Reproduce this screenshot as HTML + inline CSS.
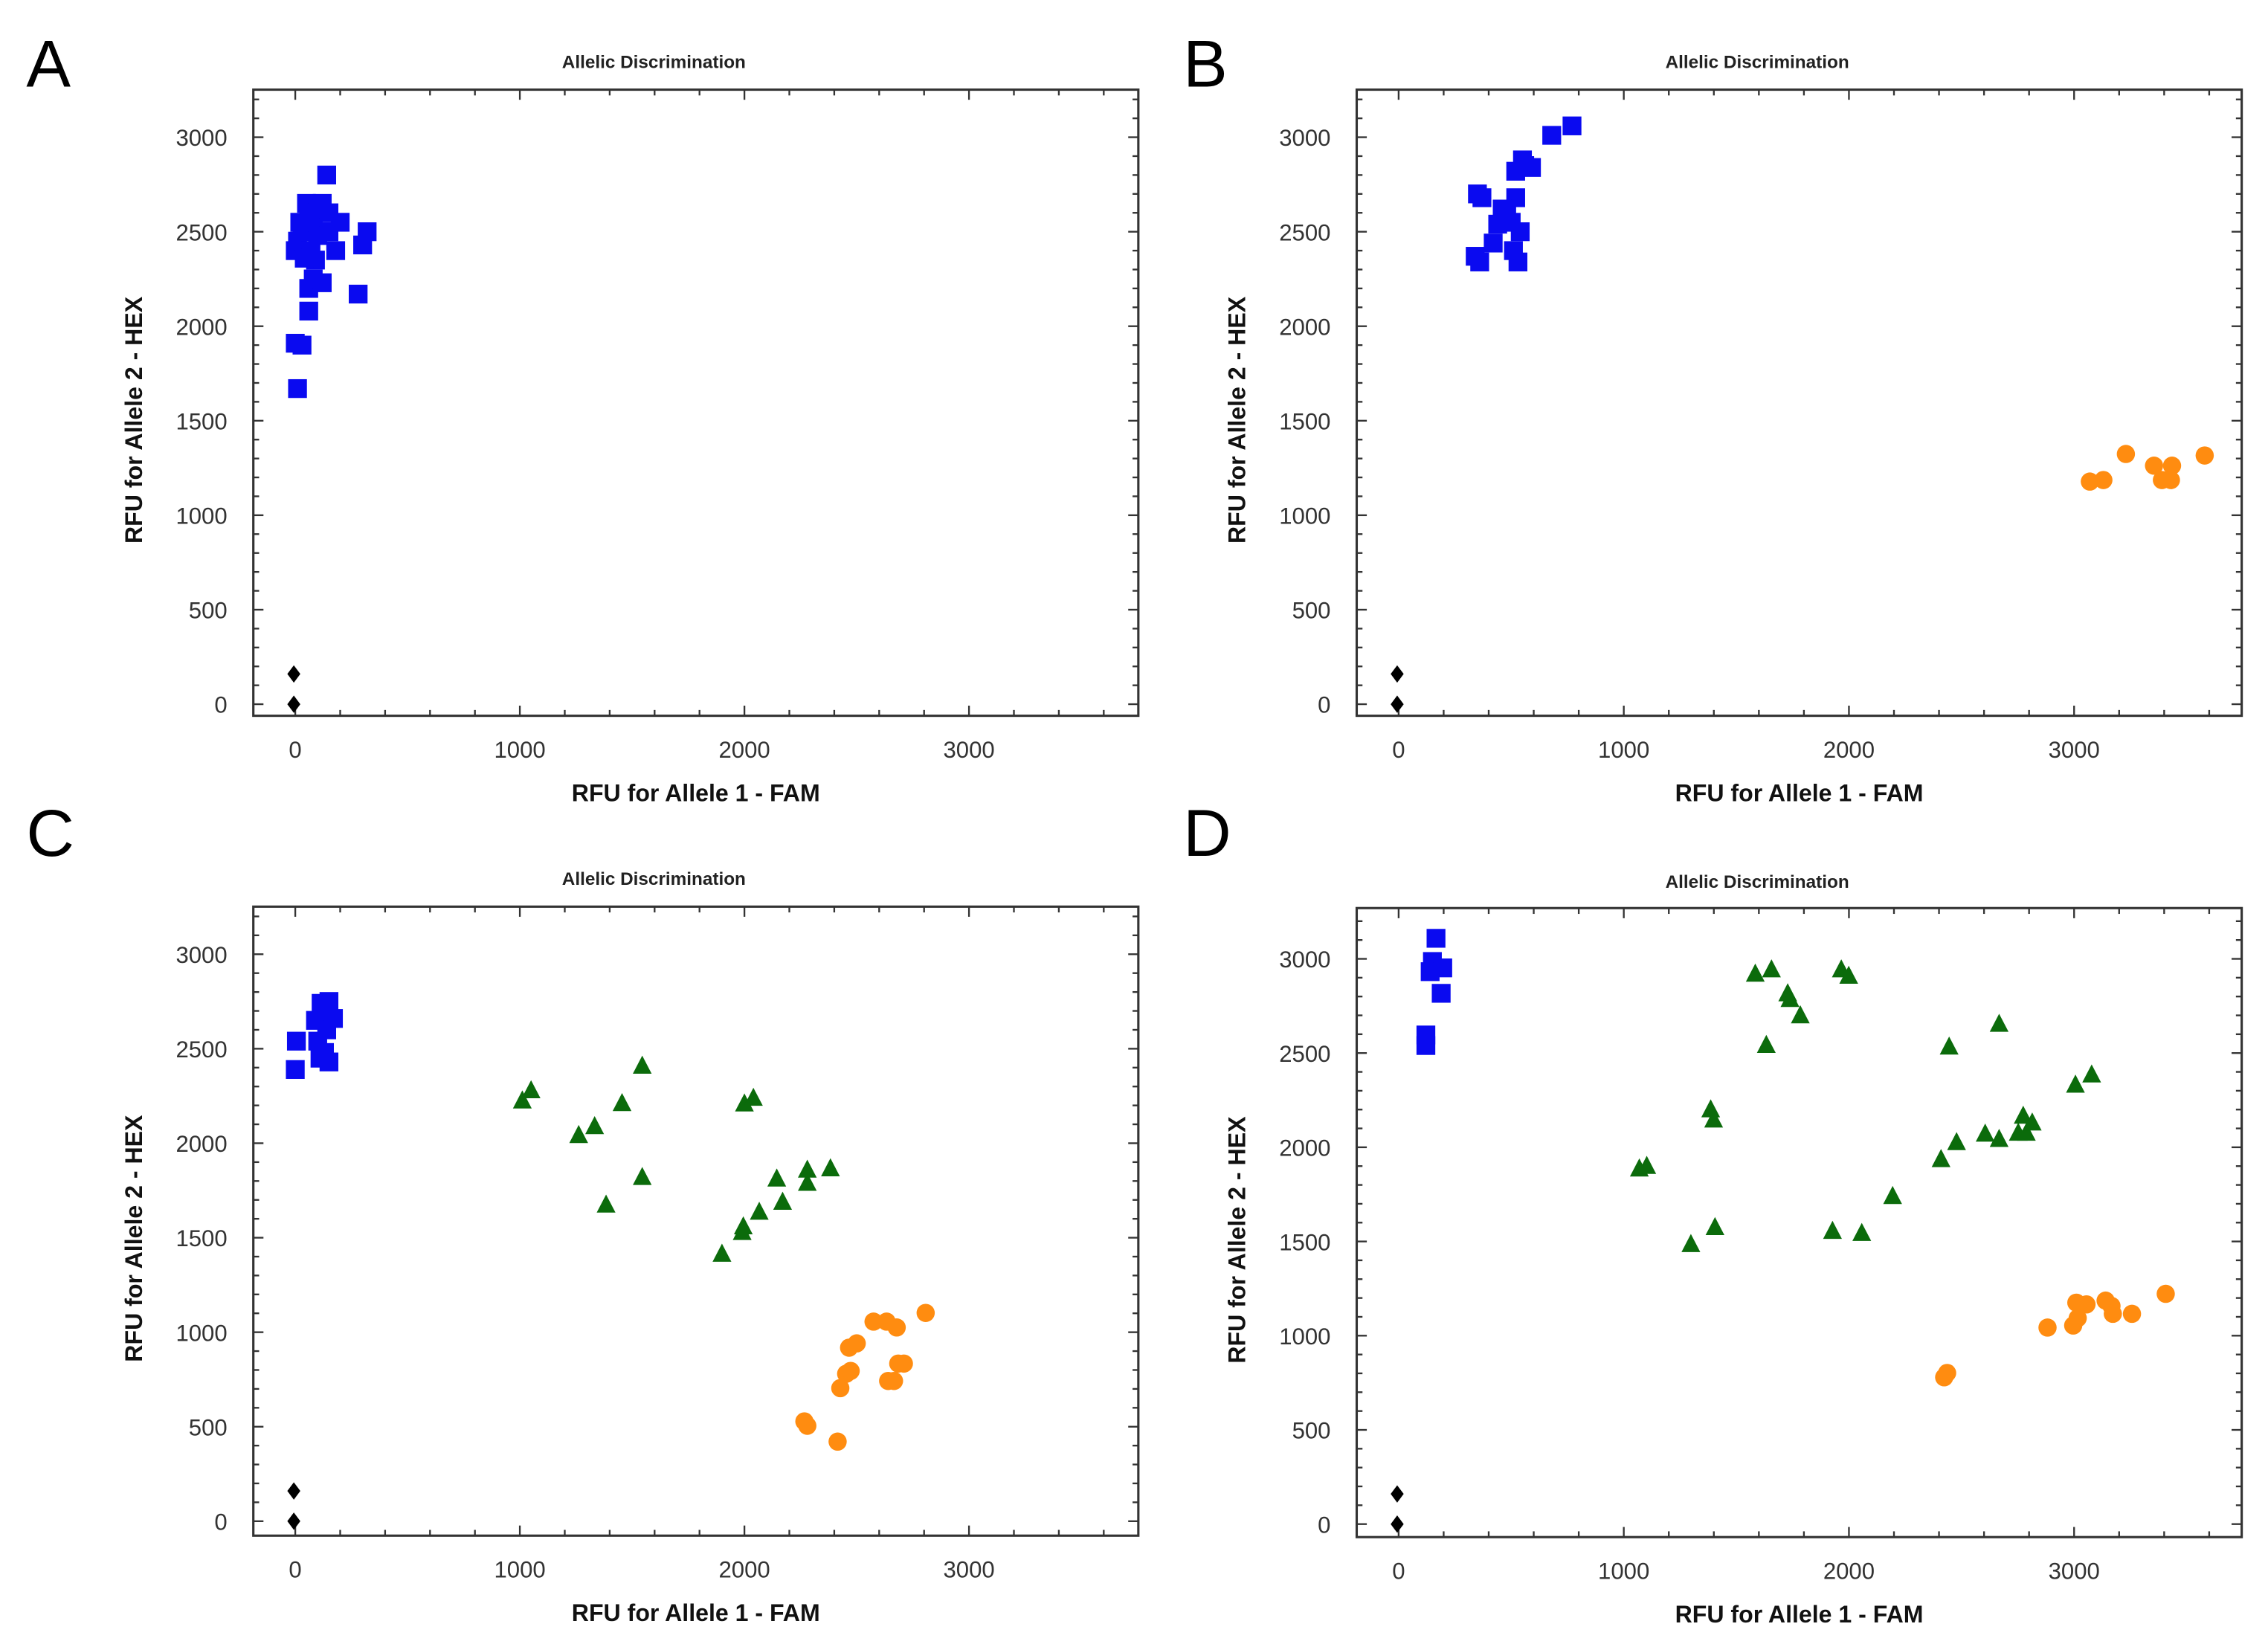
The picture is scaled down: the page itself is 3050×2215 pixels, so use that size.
<!DOCTYPE html>
<html><head><meta charset="utf-8"><style>
html,body{margin:0;padding:0;background:#fff}
svg{display:block}
text{font-family:"Liberation Sans",sans-serif}
</style></head><body>
<svg id="fig" width="3050" height="2215" viewBox="0 0 1568 1139" xmlns="http://www.w3.org/2000/svg"></svg>
<script>
// ---- data (x = RFU FAM, y = RFU HEX) ----
const ntcX = [0, 0];
const ntcY = [160, 0];

const aBlueX = [0,10,20,30,50,60,80,100,120,140,150,70,90,60,80,120,60,200,180,320,300,280,0,30,10,100,40,150];
const aBlueY = [2400,2450,2550,2500,2650,2600,2550,2620,2650,2800,2600,2400,2350,2200,2250,2230,2080,2550,2400,2500,2430,2170,1910,1900,1670,2480,2360,2500];

const bBlueX = [350,370,340,360,420,440,480,500,510,530,540,520,520,550,560,590,680,770,460];
const bBlueY = [2700,2680,2370,2340,2440,2540,2600,2550,2400,2340,2500,2680,2820,2880,2850,2840,3010,3060,2620];
const bOrangeX = [3070,3130,3230,3355,3390,3435,3430,3580];
const bOrangeY = [1178,1186,1324,1262,1186,1262,1186,1316];

const cBlueX = [0,5,90,115,150,170,100,130,150,110,140];
const cBlueY = [2390,2540,2650,2740,2750,2660,2540,2480,2430,2450,2600];
const cGreenX = [1011,1050,1262,1333,1455,1545,1384,1545,1900,1990,1995,2000,2040,2066,2144,2170,2280,2280,2383];
const cGreenY = [2226,2280,2043,2090,2212,2410,1675,1821,1415,1530,1560,2210,2240,1637,1813,1690,1790,1860,1867];
const cOrangeX = [2267,2280,2415,2427,2453,2466,2500,2575,2633,2678,2640,2666,2685,2710,2807,2473];
const cOrangeY = [528,505,421,704,780,918,941,1056,1056,1025,742,742,834,834,1102,795];

const dBlueX = [166,150,140,196,189,121,121];
const dBlueY = [3109,2986,2932,2952,2817,2596,2540];
const dGreenX = [1069,1102,1298,1405,1386,1399,1584,1656,1633,1728,1738,1784,1927,1966,1999,2057,2194,2409,2445,2478,2605,2667,2667,2752,2774,2788,2814,3006,3078];
const dGreenY = [1887,1901,1486,1576,2201,2147,2921,2944,2543,2817,2787,2700,1556,2944,2910,1545,1741,1937,2534,2027,2072,2655,2044,2077,2167,2077,2131,2332,2386];
const dOrangeX = [2423,2436,2882,2996,3016,3010,3055,3140,3166,3172,3257,3407];
const dOrangeY = [779,802,1043,1054,1093,1175,1166,1186,1158,1116,1116,1222];

const xTicks = [0,1000,2000,3000];
const yTicks = [0,500,1000,1500,2000,2500,3000];

// ---- drawing ----
const NS = "http://www.w3.org/2000/svg";
const svg = document.getElementById('fig');
function mk(tag, attrs, parent){const e=document.createElementNS(NS,tag);for(const k in attrs)e.setAttribute(k,attrs[k]);(parent||svg).appendChild(e);return e;}

const panels = [
 {id:'a', letter:'A', lx:18, ly:60, L:175,R:787,T:62,B:495, x0:204,kx:0.1553, y0:487,ky:0.1307, titleY:47,
  series:[['blue',aBlueX,aBlueY]]},
 {id:'b', letter:'B', lx:818, ly:60, L:938,R:1550,T:62,B:495, x0:967,kx:0.1557, y0:487,ky:0.1307, titleY:47,
  series:[['blue',bBlueX,bBlueY],['orange',bOrangeX,bOrangeY]]},
 {id:'c', letter:'C', lx:18, ly:592, L:175,R:787,T:627,B:1062, x0:204,kx:0.1553, y0:1052,ky:0.1307, titleY:612,
  series:[['blue',cBlueX,cBlueY],['green',cGreenX,cGreenY],['orange',cOrangeX,cOrangeY]]},
 {id:'d', letter:'D', lx:818, ly:592, L:938,R:1550,T:628,B:1063, x0:967,kx:0.1557, y0:1054,ky:0.1303, titleY:614,
  series:[['blue',dBlueX,dBlueY],['green',dGreenX,dGreenY],['orange',dOrangeX,dOrangeY]]}
];
const colors = {blue:'#0a0af0', green:'#0b6b0b', orange:'#ff8c10'};

panels.forEach(p=>{
  const g = mk('g',{});
  
  
  const xs = v => p.x0 + v*p.kx;
  const ys = v => p.y0 - v*p.ky;

  const lt = mk('text',{x:p.lx,y:p.ly,'font-size':46,fill:'#000'},g); lt.textContent=p.letter;
  
  

  const tt = mk('text',{x:(p.L+p.R)/2-29,y:p.titleY,'font-size':12.5,'font-weight':'bold','text-anchor':'middle',fill:'#222'},g);
  tt.textContent='Allelic Discrimination';
  
  

  // ticks
  const vmin=(p.L-p.x0)/p.kx, vmax=(p.R-p.x0)/p.kx;
  for(let v=Math.ceil(vmin/200)*200; v<=vmax; v+=200){
    const maj = v%1000===0, len = maj?7:4, x=xs(v);
    mk('line',{x1:x,y1:p.B,x2:x,y2:p.B-len,stroke:'#333','stroke-width':1.2},g);
    mk('line',{x1:x,y1:p.T,x2:x,y2:p.T+len,stroke:'#333','stroke-width':1.2},g);
  }
  const wmin=(p.y0-p.B)/p.ky, wmax=(p.y0-p.T)/p.ky;
  for(let v=Math.ceil(wmin/100)*100; v<=wmax; v+=100){
    const maj = v%500===0, len = maj?7:4, y=ys(v);
    mk('line',{x1:p.L,y1:y,x2:p.L+len,y2:y,stroke:'#333','stroke-width':1.2},g);
    mk('line',{x1:p.R,y1:y,x2:p.R-len,y2:y,stroke:'#333','stroke-width':1.2},g);
  }
  const box = mk('rect',{x:p.L,y:p.T,width:p.R-p.L,height:p.B-p.T,fill:'none',stroke:'#333','stroke-width':1.6},g);
  
  

  xTicks.forEach(v=>{
    const t=mk('text',{x:xs(v),y:p.B+29,'font-size':16,'text-anchor':'middle',fill:'#333'},g); t.textContent=v;
    
    
  });
  yTicks.forEach(v=>{
    const t=mk('text',{x:p.L-18,y:ys(v)+6,'font-size':16,'text-anchor':'end',fill:'#333'},g); t.textContent=v;
    
    
  });
  const xt=mk('text',{x:(p.L+p.R)/2,y:p.B+59,'font-size':16.5,'font-weight':'bold','text-anchor':'middle',fill:'#111'},g);
  xt.textContent='RFU for Allele 1 - FAM';
  
  
  const yc=(p.T+p.B)/2+12;
  const yt=mk('text',{x:p.L-77,y:yc,'font-size':16.5,'font-weight':'bold','text-anchor':'middle',fill:'#111',transform:`rotate(-90 ${p.L-77} ${yc})`},g);
  yt.textContent='RFU for Allele 2 - HEX';
  
  

  // series
  p.series.forEach(([kind,X,Y])=>{
    const sg=mk('g',{fill:colors[kind]},g);
    
    
    X.forEach((xv,i)=>{
      const cx=xs(xv), cy=ys(Y[i]); let m;
      if(kind==='blue') m=mk('rect',{x:cx-6.5,y:cy-6.5,width:13,height:13},sg);
      else if(kind==='orange') m=mk('circle',{cx:cx,cy:cy,r:6.3},sg);
      else m=mk('polygon',{points:`${cx},${cy-7} ${cx-6.5},${cy+5.5} ${cx+6.5},${cy+5.5}`},sg);
      
      
    });
  });
  const ng=mk('g',{fill:'#000'},g);
  
  
  ntcX.forEach((xv,i)=>{
    const cx=xs(xv)-1, cy=ys(ntcY[i]);
    const m=mk('polygon',{points:`${cx},${cy-6} ${cx+4.5},${cy} ${cx},${cy+6} ${cx-4.5},${cy}`},ng);
    
    
  });
});
</script>
</body></html>
